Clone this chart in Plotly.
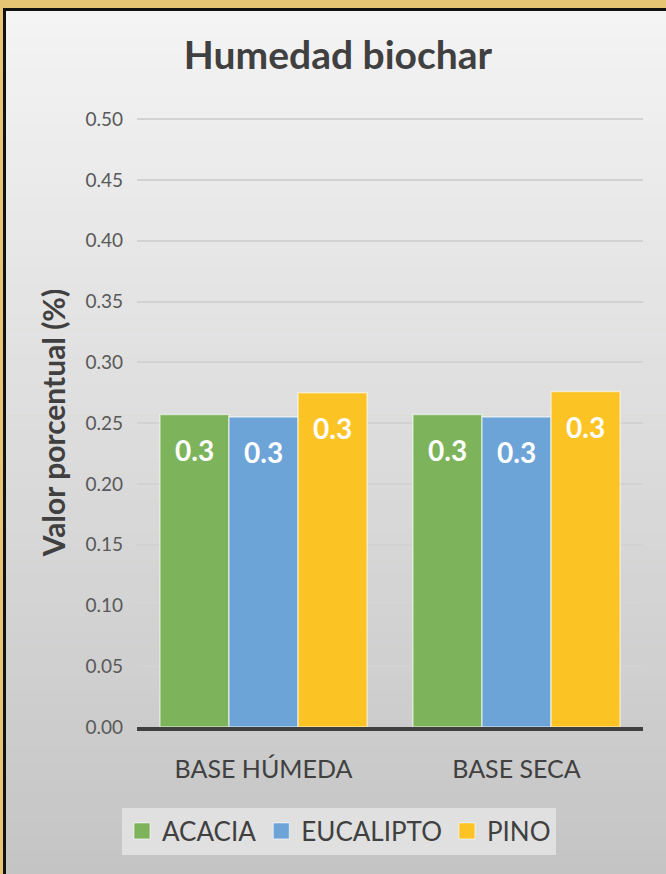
import plotly.graph_objects as go

# ---- data ----
categories = ["BASE HÚMEDA", "BASE SECA"]
series_names = ["ACACIA", "EUCALIPTO", "PINO"]
acacia = [0.257, 0.257]
eucalipto = [0.255, 0.255]
pino = [0.275, 0.276]
y_ticks = [0.00, 0.05, 0.10, 0.15, 0.20, 0.25, 0.30, 0.35, 0.40, 0.45, 0.50]

series_values = [acacia, eucalipto, pino]
colors = ["#7db35b", "#6ca4d8", "#fbc324"]

W, H = 666, 874
L, R, T, B = 137, 23, 118, 147
plot_w = W - L - R
plot_h = H - T - B

FONT = "Lato"

bar_w = 0.273
group_w = bar_w * 3
x_pos = list(range(len(categories)))

fig = go.Figure()

for i, (name, vals, col) in enumerate(zip(series_names, series_values, colors)):
    off = -group_w / 2 + i * bar_w
    fig.add_trace(go.Bar(
        x=x_pos, y=vals, name=name,
        width=bar_w, offset=off,
        marker=dict(color=col, line=dict(color="rgba(255,255,255,0.55)", width=1.5)),
        showlegend=False, hoverinfo="y",
    ))
    # legend proxy
    fig.add_trace(go.Scatter(
        x=[None], y=[None], mode="markers", name=name,
        marker=dict(symbol="square", size=20, color=col,
                    line=dict(color="rgba(255,255,255,0.6)", width=1)),
        showlegend=True,
    ))
    for j, v in zip(x_pos, vals):
        fig.add_annotation(
            x=j + off + bar_w / 2, y=v, xref="x", yref="y",
            text=f"{v:.1f}", showarrow=False, yshift=-35,
            yanchor="middle", xanchor="center",
            font=dict(family=FONT, size=28, color="white", weight="bold"),
        )

# background: gold outer + grey gradient panel with black border
def px_to_paper_x(px):
    return (px - L) / plot_w

def px_to_paper_y(py):
    return (H - B - py) / plot_h

shapes = []
top_c = (244, 244, 244)
bot_c = (196, 196, 196)
n_bands = 60
y0_px, y1_px = 9.5, H + 5
for k in range(n_bands):
    a = y0_px + (y1_px - y0_px) * k / n_bands
    b = y0_px + (y1_px - y0_px) * (k + 1) / n_bands
    t = (k + 0.5) / n_bands
    c = tuple(round(top_c[m] + (bot_c[m] - top_c[m]) * t) for m in range(3))
    shapes.append(dict(
        type="rect", xref="paper", yref="paper", layer="below",
        x0=px_to_paper_x(4.5), x1=px_to_paper_x(W + 10),
        y0=px_to_paper_y(a), y1=px_to_paper_y(b + 0.5),
        line=dict(width=0), fillcolor="rgb(%d,%d,%d)" % c,
    ))
shapes.append(dict(
    type="rect", xref="paper", yref="paper", layer="below",
    x0=px_to_paper_x(4.5), x1=px_to_paper_x(W + 10),
    y0=px_to_paper_y(9.5), y1=px_to_paper_y(H + 10),
    line=dict(width=3, color="#111111"), fillcolor="rgba(0,0,0,0)",
))

fig.update_layout(
    width=W, height=H,
    margin=dict(l=L, r=R, t=T, b=B, pad=0),
    paper_bgcolor="#e6c575",
    plot_bgcolor="rgba(0,0,0,0)",
    barmode="overlay",
    shapes=shapes,
    title=dict(
        text="Humedad biochar", x=338 / W, xanchor="center",
        y=1 - 55 / H, yanchor="middle", xref="container", yref="container",
        font=dict(family=FONT, size=39, color="#404040", weight="bold"),
    ),
    xaxis=dict(
        tickmode="array", tickvals=x_pos, ticktext=categories,
        range=[-0.5, len(categories) - 0.5],
        showgrid=False, zeroline=False,
        showline=True, linecolor="#404040", linewidth=4,
        ticks="", ticklabelstandoff=17,
        tickfont=dict(family=FONT, size=25, color="#404040"),
    ),
    yaxis=dict(
        range=[0, 0.501], tickmode="array", tickvals=y_ticks,
        tickformat=".2f",
        showgrid=True, gridcolor="#d2d2d2", gridwidth=1.5,
        zeroline=False, showline=False, ticks="",
        ticklabelstandoff=13,
        tickfont=dict(family=FONT, size=19, color="#595959"),
        title=dict(text="Valor porcentual (%)", standoff=10,
                   font=dict(family=FONT, size=30, color="#404040", weight="bold")),
    ),
    legend=dict(
        orientation="h", x=339 / W, xanchor="center",
        y=1 - 831 / H, yanchor="middle", xref="container", yref="container",
        bgcolor="rgba(232,232,232,0.75)", borderwidth=0,
        font=dict(family=FONT, size=26, color="#404040"),
        itemsizing="trace",
    ),
)

fig.write_html("out.html", config={"displayModeBar": False},
               post_script="document.body.style.margin='0';")
